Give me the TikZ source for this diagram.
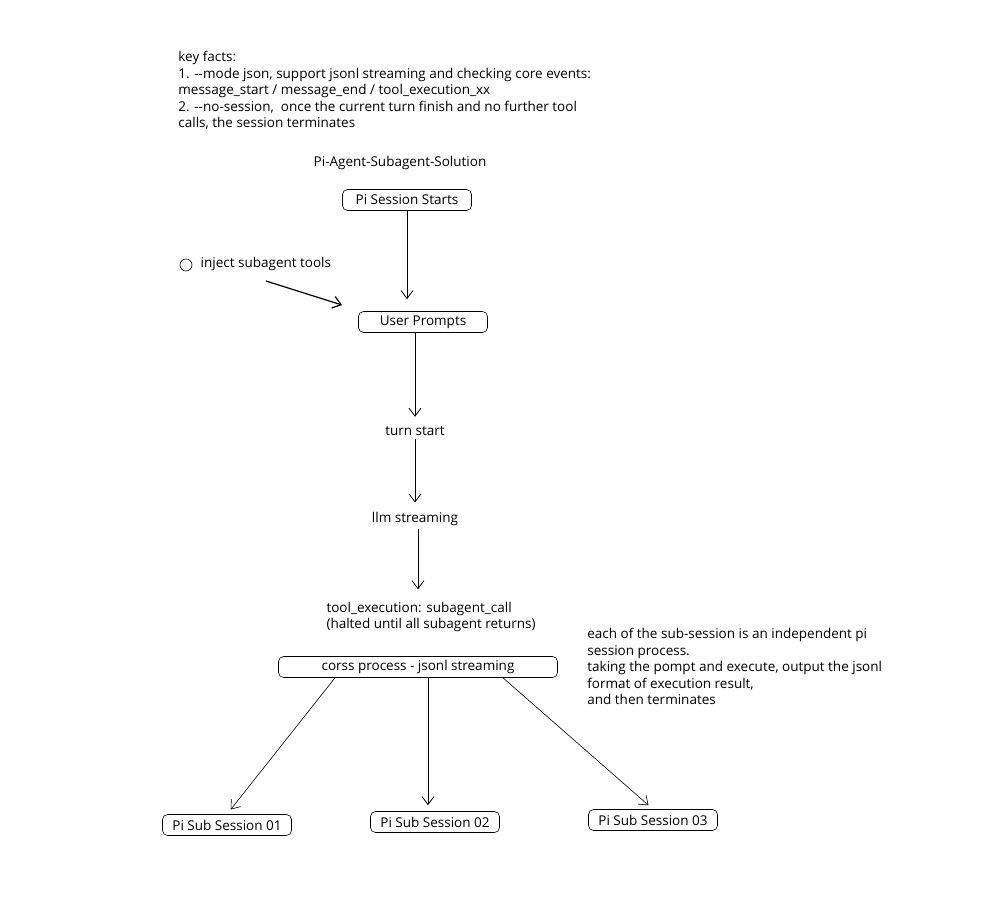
\documentclass[tikz,border=0pt]{standalone}
\usepackage{fontspec}
\setmainfont{Open Sans}
\usetikzlibrary{arrows.meta}

\begin{document}
\begin{tikzpicture}[x=1pt,y=-1pt,->,>={Straight Barb[length=8pt,width=12pt]},thick,
                    shorten >=6pt,
                    box/.style={draw,semithick,rounded corners=5pt,minimum height=21pt,
                                minimum width=129pt,inner sep=2pt},
                    txt/.style={font=\fontsize{13.5}{16.5}\selectfont}]
  \useasboundingbox (0,0) rectangle (987,908);

  % notes
  \node[txt,align=left,anchor=north west,inner sep=0pt] (facts) at (178,51)
    {key facts:\\
     1. -{}-mode json, support jsonl streaming and checking core events:\\
     message\_start / message\_end / tool\_execution\_xx\\
     2. -{}-no-session,\ \ once the current turn finish and no further tool\\
     calls, the session terminates};
  \node[txt] (title) at (400,163) {Pi-Agent-Subagent-Solution};
  \node[txt,align=left,anchor=north west,inner sep=0pt] (note) at (587,628)
    {each of the sub-session is an independent pi\\
     session process.\\
     taking the pompt and execute, output the jsonl\\
     format of execution result,\\
     and then terminates};

  % main flow
  \node[box,txt]                (start)  at (407,200) {Pi Session Starts};
  \node[box,txt]                (prompt) at (423,322) {User Prompts};
  \node[txt]                    (turn)   at (415,431) {turn start};
  \node[txt]                    (llm)    at (415,519) {llm streaming};
  \node[txt,align=left]         (tool)   at (431,617) {tool\_execution: subagent\_call\\
                                                      (halted until all subagent returns)};
  \node[box,txt,minimum width=279pt] (cross) at (418,667) {corss process - jsonl streaming};
  \node[box,txt]                (sub1)   at (227,825) {Pi Sub Session 01};
  \node[box,txt]                (sub2)   at (435,822) {Pi Sub Session 02};
  \node[box,txt]                (sub3)   at (653,820) {Pi Sub Session 03};

  % injected tools
  \node[draw,semithick,circle,minimum size=12pt,inner sep=0pt,-] (dot) at (186,265) {};
  \node[txt,anchor=west]        (inject) at (197,264) {inject subagent tools};
  \coordinate (injfrom) at (266,281);
  \coordinate (injto)   at (342,305);

  \path (start)  edge[shorten >=12pt] (prompt.north -| start)
        (prompt.south -| turn) edge (turn)
        (turn)   edge (llm)
        (llm.south -| 418,0) edge[shorten >=9pt] (tool.north -| 418,0)
        (injfrom) edge[very thick,shorten >=0pt] (injto)
        (cross.south -| 335,0) edge[semithick] (sub1.north)
        (cross.south -| 428,0) edge (sub2.north -| 428,0)
        (cross.south -| 503,0) edge[semithick] (sub3.north);
\end{tikzpicture}
\end{document}
